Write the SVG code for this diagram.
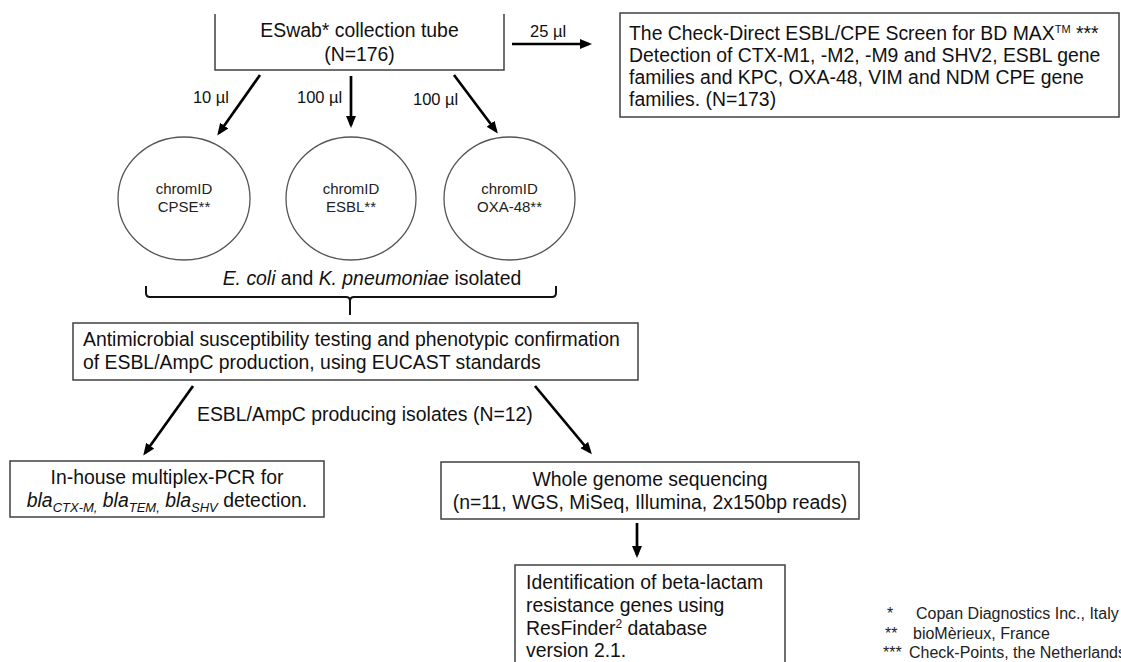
<svg xmlns="http://www.w3.org/2000/svg" width="1121" height="662" viewBox="0 0 1121 662">
<defs>
<marker id="ah" markerUnits="userSpaceOnUse" viewBox="0 0 12 10" markerWidth="12" markerHeight="10" refX="9" refY="5" orient="auto">
<path d="M0,0 L12,5 L0,10 z" fill="#000"/>
</marker>
<style>
.box{fill:#fff;stroke:#404040;stroke-width:1.5}
.circ{fill:#fff;stroke:#555;stroke-width:1.3}
.t{font-family:"Liberation Sans",Arial,sans-serif;font-size:19.4px;fill:#111}
.c{text-anchor:middle}
.small{font-family:"Liberation Sans",Arial,sans-serif;font-size:15px;fill:#222;text-anchor:middle}
.lbl{font-family:"Liberation Sans",Arial,sans-serif;font-size:16.5px;fill:#111}
.fn{font-family:"Liberation Sans",Arial,sans-serif;font-size:16px;fill:#222}
.arr{stroke:#000;stroke-width:2.7;fill:none;marker-end:url(#ah)}
.brace{stroke:#111;stroke-width:2;fill:none}
.i{font-style:italic}
</style>
</defs>
<rect width="1121" height="662" fill="#fff"/>

<g id="eswab">
<path class="box" d="M215,14 L215,70 L504,70 L504,14"/>
<text class="t c" x="359.5" y="37">ESwab* collection tube</text>
<text class="t c" x="359.5" y="61">(N=176)</text>
</g>

<g id="checkdirect">
<rect class="box" x="620" y="13" width="499" height="104"/>
<text class="t" x="629" y="40">The Check-Direct ESBL/CPE Screen for BD MAX<tspan font-size="11" dy="-7">TM</tspan><tspan dy="7"> ***</tspan></text>
<text class="t" x="629" y="62">Detection of CTX-M1, -M2, -M9 and SHV2, ESBL gene</text>
<text class="t" x="629" y="84">families and KPC, OXA-48, VIM and NDM CPE gene</text>
<text class="t" x="629" y="106">families. (N=173)</text>
</g>

<g id="cpse">
<ellipse class="circ" cx="184" cy="198.5" rx="66" ry="61.5"/>
<text class="small" x="184" y="194">chromID</text>
<text class="small" x="184" y="212">CPSE**</text>
</g>
<g id="esbl">
<ellipse class="circ" cx="351" cy="198.5" rx="65" ry="61.5"/>
<text class="small" x="351" y="194">chromID</text>
<text class="small" x="351" y="212">ESBL**</text>
</g>
<g id="oxa48">
<ellipse class="circ" cx="509.5" cy="198.5" rx="65.5" ry="61.5"/>
<text class="small" x="509.5" y="194">chromID</text>
<text class="small" x="509.5" y="212">OXA-48**</text>
</g>

<g id="isolated">
<text class="t c" x="372" y="285"><tspan class="i">E. coli</tspan> and <tspan class="i">K. pneumoniae</tspan> isolated</text>
<path class="brace" d="M146,286 L146,293 Q146,297 150,297 L346,297 Q350,297 350,301 L350,315 M350,301 Q350,297 354,297 L552,297 Q556,297 556,293 L556,286"/>
</g>

<g id="ast">
<rect class="box" x="73" y="323" width="565" height="57"/>
<text class="t" x="83" y="346">Antimicrobial susceptibility testing and phenotypic confirmation</text>
<text class="t" x="83" y="369">of ESBL/AmpC production, using EUCAST standards</text>
</g>

<g id="pcr">
<rect class="box" x="10" y="461" width="314" height="56"/>
<text class="t c" x="167" y="484">In-house multiplex-PCR for</text>
<text class="t c" x="167" y="507"><tspan class="i">bla</tspan><tspan class="i" font-size="13" dy="5">CTX-M,</tspan><tspan dy="-5"> </tspan><tspan class="i">bla</tspan><tspan class="i" font-size="13" dy="5">TEM,</tspan><tspan dy="-5"> </tspan><tspan class="i">bla</tspan><tspan class="i" font-size="13" dy="5">SHV</tspan><tspan dy="-5"> detection.</tspan></text>
</g>

<g id="wgs">
<rect class="box" x="441" y="462" width="418" height="57"/>
<text class="t c" x="650" y="486">Whole genome sequencing</text>
<text class="t c" x="650" y="509">(n=11, WGS, MiSeq, Illumina, 2x150bp reads)</text>
</g>

<g id="resfinder">
<path class="box" d="M515,665 L515,565 L785,565 L785,665"/>
<text class="t" x="526" y="589">Identification of beta-lactam</text>
<text class="t" x="526" y="612">resistance genes using</text>
<text class="t" x="526" y="635">ResFinder<tspan font-size="12" dy="-7">2</tspan><tspan dy="7"> database</tspan></text>
<text class="t" x="526" y="657">version 2.1.</text>
</g>

<g id="connectors">
<line class="arr" x1="512" y1="44" x2="589" y2="44"/>
<text class="lbl" x="530" y="37">25 µl</text>
<line class="arr" x1="260" y1="75" x2="219" y2="133"/>
<text class="lbl" x="229" y="103" text-anchor="end">10 µl</text>
<line class="arr" x1="351" y1="76" x2="351" y2="125"/>
<text class="lbl" x="297" y="103">100 µl</text>
<line class="arr" x1="454" y1="75" x2="496" y2="131"/>
<text class="lbl" x="413" y="105">100 µl</text>
<line class="arr" x1="193" y1="386" x2="145" y2="453"/>
<line class="arr" x1="535" y1="386" x2="590" y2="452"/>
<text class="t" x="197" y="421">ESBL/AmpC producing isolates (N=12)</text>
<line class="arr" x1="637" y1="523" x2="637" y2="555"/>
</g>

<g id="footnotes">
<text class="fn" x="887" y="619">*</text>
<text class="fn" x="916" y="619">Copan Diagnostics Inc., Italy</text>
<text class="fn" x="885" y="639">**</text>
<text class="fn" x="913" y="639">bioMèrieux, France</text>
<text class="fn" x="883" y="658">***</text>
<text class="fn" x="909" y="658">Check-Points, the Netherlands</text>
</g>
</svg>
